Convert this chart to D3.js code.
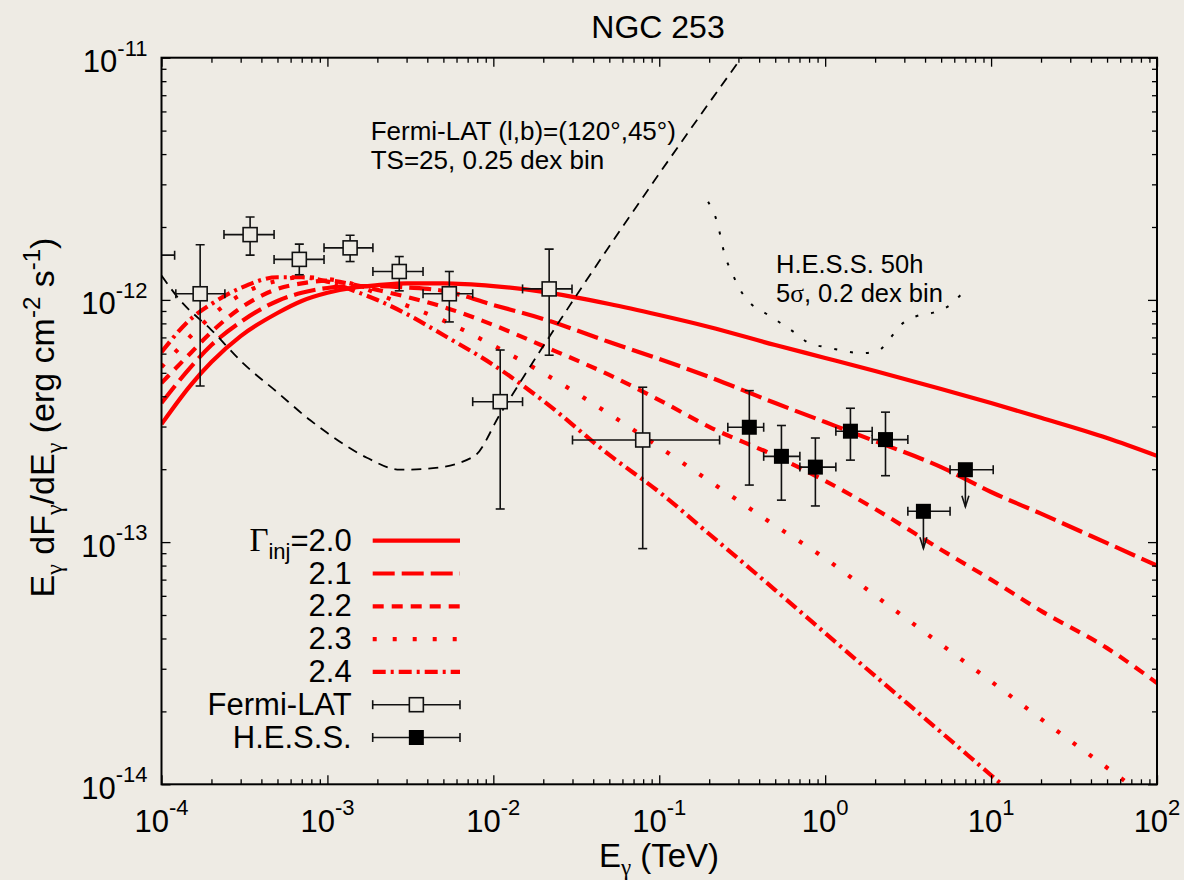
<!DOCTYPE html>
<html>
<head>
<meta charset="utf-8">
<script src="https://cdn.jsdelivr.net/npm/d3@7"></script>
<style>
html, body { margin: 0; padding: 0; background: #EEEBE4; }
svg { display: block; font-family: "Liberation Sans", Arial, Helvetica, sans-serif; }
text { white-space: pre; }
</style>
</head>
<body>
<svg id="chart" width="1184" height="880"></svg>
<script>
// ---------------- DATA (fluxes in units of 1e-13 erg cm^-2 s^-1, energies in TeV) ----------------
const FLUX_UNIT = 1e-13;

const modelEnergies = [1e-4, 1.5e-4, 2e-4, 3e-4, 5e-4, 7e-4, 1e-3, 1.5e-3, 2e-3, 3e-3, 5e-3,
  1e-2, 2e-2, 5e-2, 0.1, 0.2, 0.5, 1, 2, 5, 10, 20, 50, 100];
const modelGamma20 = [3.07, 4.45, 5.54, 7.09, 8.83, 9.90, 10.7, 11.3, 11.5, 11.7, 11.7,
  11.4, 10.8, 9.62, 8.66, 7.73, 6.51, 5.76, 5.09, 4.29, 3.75, 3.26, 2.69, 2.27];
const modelGamma21 = [3.75, 5.28, 6.51, 8.11, 9.90, 10.7, 11.2, 11.4, 11.4, 11.25, 10.9,
  9.53, 8.34, 6.70, 5.70, 4.81, 3.75, 3.13, 2.61, 2.04, 1.61, 1.31, 0.99, 0.80];
const modelGamma22 = [4.54, 6.04, 7.37, 9.26, 11.1, 11.7, 12.0, 11.5, 11.0, 10.3, 9.35,
  7.88, 6.45, 4.90, 3.86, 2.99, 2.27, 1.79, 1.37, 0.93, 0.70, 0.52, 0.365, 0.262];
const modelGamma23 = [5.28, 7.09, 8.58, 10.5, 12.0, 12.4, 12.2, 11.5, 10.6, 9.48, 8.22,
  6.48, 4.99, 3.38, 2.47, 1.79, 1.17, 0.856, 0.602, 0.378, 0.266, 0.186, 0.117, 0.082];
const modelGamma24 = [6.09, 8.34, 9.62, 11.2, 12.4, 12.4, 11.9, 10.8, 9.99, 8.75, 7.16,
  5.39, 3.83, 2.29, 1.61, 1.08, 0.634, 0.421, 0.280, 0.164, 0.109, 0.0726, 0.0422, 0.0283];
const modelLabels = ["2.0", "2.1", "2.2", "2.3", "2.4"];

// Fermi-LAT sensitivity (TS=25, 0.25 dex bin)
const fermiSensE = [1e-4, 1.29e-4, 2e-4, 3.11e-4, 5e-4, 7.85e-4, 1e-3, 1.73e-3, 2.74e-3, 4.33e-3, 7.65e-3, 1.10e-2, 1];
const fermiSensF = [12.6, 9.99, 7.51, 5.47, 4.15, 3.19, 2.82, 2.23, 1.99, 2.02, 2.26, 3.38, 300];

// H.E.S.S. 50h sensitivity (5 sigma, 0.2 dex bin)
const hessSensE = [0.197, 0.223, 0.249, 0.275, 0.303, 0.353, 0.434, 0.535, 0.659, 0.789,
  1.02, 1.29, 1.66, 2.09, 2.46, 2.90, 3.57, 4.49, 5.66, 6.81];
const hessSensF = [25.4, 21.0, 15.2, 12.9, 11.2, 9.71, 8.83, 8.05, 7.30, 6.66,
  6.37, 6.17, 6.02, 6.17, 6.94, 7.95, 8.58, 8.86, 9.53, 10.8];

// Fermi-LAT data points
const fermiE   = [8.6e-5, 1.71e-4, 3.42e-4, 6.77e-4, 1.37e-3, 2.71e-3, 5.43e-3, 1.10e-2, 2.17e-2, 7.95e-2];
const fermiElo = [6.1e-5, 1.22e-4, 2.38e-4, 4.77e-4, 9.54e-4, 1.88e-3, 3.77e-3, 7.51e-3, 1.50e-2, 3.0e-2];
const fermiEhi = [1.2e-4, 2.41e-4, 4.77e-4, 9.54e-4, 1.88e-3, 3.77e-3, 7.51e-3, 1.50e-2, 2.98e-2, 0.231];
const fermiF   = [15.3, 10.6, 18.6, 14.7, 16.4, 13.1, 10.6, 3.80, 11.1, 2.64];
const fermiFlo = [null, 4.41, 15.3, 12.7, 14.4, 10.9, 8.11, 1.37, 5.91, 0.94];
const fermiFhi = [null, 16.9, 22.0, 17.0, 18.5, 15.1, 13.1, 6.21, 16.2, 4.36];

// H.E.S.S. data points
const hessE   = [0.349, 0.545, 0.873, 1.42, 2.31, 3.91, 7.00];
const hessElo = [0.259, 0.426, 0.704, 1.16, 1.92, 3.15, 5.66];
const hessEhi = [0.426, 0.704, 1.16, 1.92, 3.15, 5.66, 10.3];
const hessF   = [2.98, 2.26, 2.04, 2.87, 2.65, 1.34, 1.99];
const hessFlo = [1.72, 1.49, 1.41, 2.18, 1.88, null, null];
const hessFhi = [4.22, 3.03, 2.69, 3.57, 3.44, null, null];
const hessUpperLimit = [false, false, false, false, false, true, true];

const xTickExponents = [-4, -3, -2, -1, 0, 1, 2];
const yTickExponents = [-14, -13, -12, -11];

// ---------------- LAYOUT / STYLE ----------------
const W = 1184, H = 880;
const plot = { left: 161.5, right: 1157, top: 57.7, bottom: 784.3 };
const BG = "#EEEBE4";
const RED = "#FF0000";
const GREEK = "'Liberation Serif', 'DejaVu Serif', serif";
const modelDash = [null, "22,7", "11,8", "4,16", "13,5,3,5"];

const svg = d3.select("#chart");
svg.append("rect").attr("width", W).attr("height", H).attr("fill", BG);

const x = d3.scaleLog().domain([1e-4, 1e2]).range([plot.left, plot.right]);
const y = d3.scaleLog().domain([1e-14, 1e-11]).range([plot.bottom, plot.top]);

svg.append("defs").append("clipPath").attr("id", "plotclip").append("rect")
  .attr("x", plot.left).attr("y", plot.top)
  .attr("width", plot.right - plot.left).attr("height", plot.bottom - plot.top);

const area = svg.append("g").attr("clip-path", "url(#plotclip)");

const line = d3.line()
  .x(d => x(d[0]))
  .y(d => y(d[1] * FLUX_UNIT))
  .curve(d3.curveMonotoneX);

// ---------------- MODEL CURVES ----------------
const modelSeries = [modelGamma20, modelGamma21, modelGamma22, modelGamma23, modelGamma24];
modelSeries.forEach((vals, i) => {
  area.append("path")
    .datum(modelEnergies.map((e, k) => [e, vals[k]]))
    .attr("d", line)
    .attr("fill", "none")
    .attr("stroke", RED)
    .attr("stroke-width", 4.2)
    .attr("stroke-dasharray", modelDash[i]);
});

// ---------------- SENSITIVITY CURVES ----------------
area.append("path")
  .datum(fermiSensE.map((e, k) => [e, fermiSensF[k]]))
  .attr("d", line)
  .attr("fill", "none").attr("stroke", "#000").attr("stroke-width", 1.8)
  .attr("stroke-dasharray", "10,7");

area.append("path")
  .datum(hessSensE.map((e, k) => [e, hessSensF[k]]))
  .attr("d", line)
  .attr("fill", "none").attr("stroke", "#000").attr("stroke-width", 2)
  .attr("stroke-dasharray", "3,13");

// ---------------- DATA POINTS ----------------
const CAP = 4.5;
function errorBars(g, e, elo, ehi, f, flo, fhi) {
  const cx = x(e), cy = y(f * FLUX_UNIT);
  const xl = x(elo), xh = x(ehi);
  g.append("line").attr("x1", xl).attr("x2", xh).attr("y1", cy).attr("y2", cy);
  g.append("line").attr("x1", xl).attr("x2", xl).attr("y1", cy - CAP).attr("y2", cy + CAP);
  g.append("line").attr("x1", xh).attr("x2", xh).attr("y1", cy - CAP).attr("y2", cy + CAP);
  if (flo != null && fhi != null) {
    const yl = y(flo * FLUX_UNIT), yh = y(fhi * FLUX_UNIT);
    g.append("line").attr("x1", cx).attr("x2", cx).attr("y1", yl).attr("y2", yh);
    g.append("line").attr("x1", cx - CAP).attr("x2", cx + CAP).attr("y1", yl).attr("y2", yl);
    g.append("line").attr("x1", cx - CAP).attr("x2", cx + CAP).attr("y1", yh).attr("y2", yh);
  }
  return [cx, cy];
}

const fermiG = area.append("g").attr("stroke", "#111").attr("stroke-width", 1.6);
fermiE.forEach((e, i) => {
  const [cx, cy] = errorBars(fermiG, e, fermiElo[i], fermiEhi[i], fermiF[i], fermiFlo[i], fermiFhi[i]);
  fermiG.append("rect").attr("x", cx - 7).attr("y", cy - 7).attr("width", 14).attr("height", 14)
    .attr("fill", BG).attr("stroke", "#111").attr("stroke-width", 1.6);
});

const hessG = area.append("g").attr("stroke", "#111").attr("stroke-width", 1.6);
hessE.forEach((e, i) => {
  const [cx, cy] = errorBars(hessG, e, hessElo[i], hessEhi[i], hessF[i], hessFlo[i], hessFhi[i]);
  if (hessUpperLimit[i]) {
    const tip = cy + 37;
    hessG.append("line").attr("x1", cx).attr("x2", cx).attr("y1", cy).attr("y2", tip);
    hessG.append("path").attr("d", `M${cx - 3.5},${tip - 11}L${cx},${tip}L${cx + 3.5},${tip - 11}`)
      .attr("fill", "none");
  }
  hessG.append("rect").attr("x", cx - 7.5).attr("y", cy - 7.5).attr("width", 15).attr("height", 15)
    .attr("fill", "#000").attr("stroke", "none");
});

// ---------------- AXES (ticks on all four sides, pointing inward) ----------------
const majorX = xTickExponents.map(e => Math.pow(10, e));
const minorX = [];
for (let e = -4; e < 2; e++) for (let m = 2; m <= 9; m++) minorX.push(m * Math.pow(10, e));
const majorY = yTickExponents.map(e => Math.pow(10, e));
const minorY = [];
for (let e = -14; e < -11; e++) for (let m = 2; m <= 9; m++) minorY.push(m * Math.pow(10, e));

function ticks(axisFn, scale, values, size, transform) {
  svg.append("g").attr("transform", transform)
    .call(axisFn(scale).tickValues(values).tickSize(size).tickFormat(""))
    .call(g => g.select(".domain").remove())
    .call(g => g.selectAll("text").remove())
    .call(g => g.selectAll("line").attr("stroke", "#000").attr("stroke-width", 1.3));
}
ticks(d3.axisBottom, x, majorX, -9, `translate(0,${plot.bottom})`);
ticks(d3.axisBottom, x, minorX, -5, `translate(0,${plot.bottom})`);
ticks(d3.axisTop, x, majorX, -9, `translate(0,${plot.top})`);
ticks(d3.axisTop, x, minorX, -5, `translate(0,${plot.top})`);
ticks(d3.axisLeft, y, majorY, -9, `translate(${plot.left},0)`);
ticks(d3.axisLeft, y, minorY, -5, `translate(${plot.left},0)`);
ticks(d3.axisRight, y, majorY, -9, `translate(${plot.right},0)`);
ticks(d3.axisRight, y, minorY, -5, `translate(${plot.right},0)`);

svg.append("rect")
  .attr("x", plot.left).attr("y", plot.top)
  .attr("width", plot.right - plot.left).attr("height", plot.bottom - plot.top)
  .attr("fill", "none").attr("stroke", "#000").attr("stroke-width", 2);

// tick labels
const xl = svg.append("g").selectAll("text").data(xTickExponents).join("text")
  .attr("x", d => x(Math.pow(10, d))).attr("y", plot.bottom + 47.5)
  .attr("text-anchor", "middle").attr("font-size", 31).attr("fill", "#000");
xl.append("tspan").text("10");
xl.append("tspan").attr("dy", -16.5).attr("font-size", 22).text(d => String(d));

const yl = svg.append("g").selectAll("text").data(yTickExponents).join("text")
  .attr("x", 147.5).attr("y", d => y(Math.pow(10, d)) + 14.5)
  .attr("text-anchor", "end").attr("font-size", 31).attr("fill", "#000");
yl.append("tspan").text("10");
yl.append("tspan").attr("dy", -16.5).attr("font-size", 22).text(d => String(d));

// ---------------- TITLES ----------------
svg.append("text").attr("x", 658).attr("y", 37.7).attr("text-anchor", "middle")
  .attr("font-size", 32).text("NGC 253");

const xt = svg.append("text").attr("x", 659).attr("y", 866.7).attr("text-anchor", "middle").attr("font-size", 33);
xt.append("tspan").text("E");
xt.append("tspan").attr("dy", 8).attr("font-size", 23).attr("font-family", GREEK).text("γ");
xt.append("tspan").attr("dy", -8).text(" (TeV)");

const yt = svg.append("text").attr("transform", "translate(53.5,417.5) rotate(-90)")
  .attr("text-anchor", "middle").attr("font-size", 34);
yt.append("tspan").text("E");
yt.append("tspan").attr("dy", 8).attr("font-size", 24).attr("font-family", GREEK).text("γ");
yt.append("tspan").attr("dy", -8).text(" dF");
yt.append("tspan").attr("dy", 8).attr("font-size", 24).attr("font-family", GREEK).text("γ");
yt.append("tspan").attr("dy", -8).text("/dE");
yt.append("tspan").attr("dy", 8).attr("font-size", 24).attr("font-family", GREEK).text("γ");
yt.append("tspan").attr("dy", -8).text(" (erg cm");
yt.append("tspan").attr("dy", -14).attr("font-size", 24).text("-2");
yt.append("tspan").attr("dy", 14).text(" s");
yt.append("tspan").attr("dy", -14).attr("font-size", 24).text("-1");
yt.append("tspan").attr("dy", 14).text(")");

// ---------------- ANNOTATIONS ----------------
svg.append("text").attr("x", 370.7).attr("y", 140).attr("font-size", 26).text("Fermi-LAT (l,b)=(120°,45°)");
svg.append("text").attr("x", 370.7).attr("y", 168.5).attr("font-size", 26).text("TS=25, 0.25 dex bin");
svg.append("text").attr("x", 776).attr("y", 272.5).attr("font-size", 25.5).text("H.E.S.S. 50h");
const sig = svg.append("text").attr("x", 776).attr("y", 301.5).attr("font-size", 25.5);
sig.append("tspan").text("5");
sig.append("tspan").attr("font-family", GREEK).text("σ");
sig.append("tspan").text(", 0.2 dex bin");

// ---------------- LEGEND ----------------
const legX0 = 372.7, legX1 = 460, legTextX = 351.7, legY0 = 540.7, legStep = 32.8;
const legMid = (legX0 + legX1) / 2;
const legend = svg.append("g");
modelLabels.forEach((lab, i) => {
  const ly = legY0 + i * legStep;
  const t = legend.append("text").attr("x", legTextX).attr("y", ly + 10).attr("text-anchor", "end").attr("font-size", 31);
  if (i === 0) {
    t.append("tspan").attr("font-family", GREEK).attr("font-size", 33).text("Γ");
    t.append("tspan").attr("dy", 8).attr("font-size", 22).text("inj");
    t.append("tspan").attr("dy", -8).text("=" + lab);
  } else {
    t.text(lab);
  }
  legend.append("line").attr("x1", legX0).attr("x2", legX1).attr("y1", ly).attr("y2", ly)
    .attr("stroke", RED).attr("stroke-width", 4.2).attr("stroke-dasharray", modelDash[i]);
});
[["Fermi-LAT", false], ["H.E.S.S.", true]].forEach(([lab, filled], j) => {
  const ly = legY0 + (5 + j) * legStep;
  legend.append("text").attr("x", legTextX).attr("y", ly + 10).attr("text-anchor", "end").attr("font-size", 31).text(lab);
  const g = legend.append("g").attr("stroke", "#111").attr("stroke-width", 1.6);
  g.append("line").attr("x1", legX0).attr("x2", legX1).attr("y1", ly).attr("y2", ly);
  g.append("line").attr("x1", legX0).attr("x2", legX0).attr("y1", ly - CAP).attr("y2", ly + CAP);
  g.append("line").attr("x1", legX1).attr("x2", legX1).attr("y1", ly - CAP).attr("y2", ly + CAP);
  if (filled) {
    g.append("rect").attr("x", legMid - 7.5).attr("y", ly - 7.5).attr("width", 15).attr("height", 15)
      .attr("fill", "#000").attr("stroke", "none");
  } else {
    g.append("rect").attr("x", legMid - 7).attr("y", ly - 7).attr("width", 14).attr("height", 14)
      .attr("fill", BG);
  }
});
</script>
</body>
</html>
